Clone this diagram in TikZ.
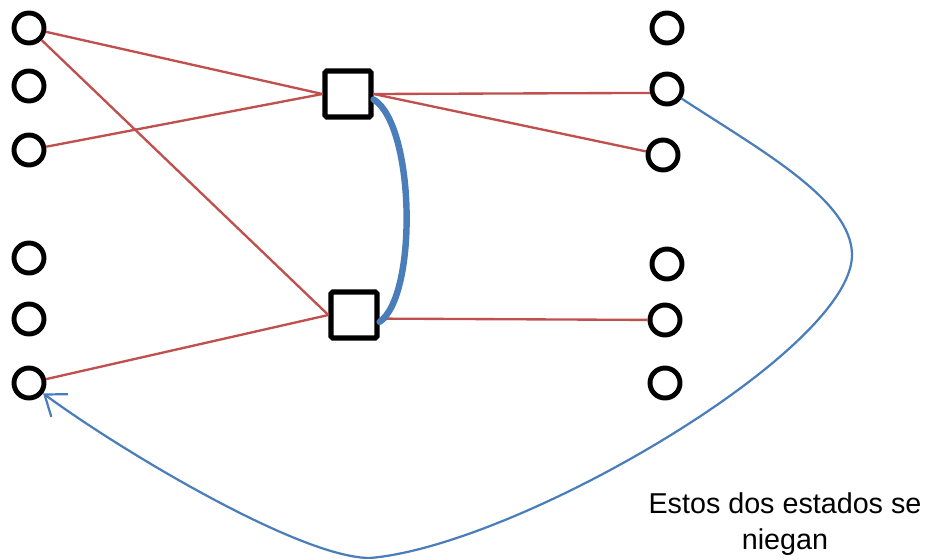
\documentclass[tikz,border=0pt]{standalone}
\usepackage{fontspec}
\setmainfont{Liberation Sans}
\usetikzlibrary{arrows.meta}

\definecolor{linkred}{RGB}{192,80,77}
\definecolor{linkblue}{RGB}{74,126,187}

\tikzset{
	state/.style={draw, circle, line width=4.2pt, minimum size=0.9cm, inner sep=0pt},
	gate/.style={draw, rectangle, line width=4.5pt, rounded corners=1.5pt, minimum size=1.38cm, inner sep=0pt, fill=white},
	link/.style={linkred, line width=2pt},
}

\begin{document}
\begin{tikzpicture}[x=0.03cm, y=-0.03cm]

			\useasboundingbox (0,0) rectangle (929,558);

			% States on the left
			\node[state] (l1) at (29,28) {};
			\node[state] (l2) at (29,86) {};
			\node[state] (l3) at (29,150) {};
			\node[state] (l4) at (29,258) {};
			\node[state] (l5) at (29,319) {};
			\node[state] (l6) at (29,383) {};

			% States on the right
			\node[state] (r1) at (667,28) {};
			\node[state] (r2) at (667,89) {};
			\node[state] (r3) at (663,155) {};
			\node[state] (r4) at (667,264) {};
			\node[state] (r5) at (665,320) {};
			\node[state] (r6) at (665,383) {};

			% The two gates
			\node[gate] (sq1) at (348,94) {};
			\node[gate] (sq2) at (354,315) {};

			% Inputs
			\draw[link] (l1) -- (sq1.west);
			\draw[link] (l1) -- (sq2.west);
			\draw[link] (l3) -- (sq1.west);
			\draw[link] (l6) -- (sq2.west);

			% Outputs
			\draw[link] (sq1.east) -- (r2.193);
			\draw[link] (sq1.east) -- (r3);
			\draw[link] (sq2.-8) -- (r5);

			% Link between the gates
			\draw[linkblue, line width=5.5pt, line cap=round]
			(sq1.-12) .. controls (415,125) and (418,295) .. (sq2.-15);

			% Back to the left side
			\draw[linkblue, line width=1.9pt, -{Straight Barb[length=16pt, width=24pt]}]
			(r2) .. controls (760,150) and (852,200) .. (852,255)
			.. controls (852,350) and (520,545) .. (370,558)
			.. controls (300,558) and (120,450) .. (l6);

			\node[align=center, font=\fontsize{24.5}{30}\selectfont] (note) at (785,524)
			{Estos dos estados se\\niegan};

		\end{tikzpicture}
\end{document}
